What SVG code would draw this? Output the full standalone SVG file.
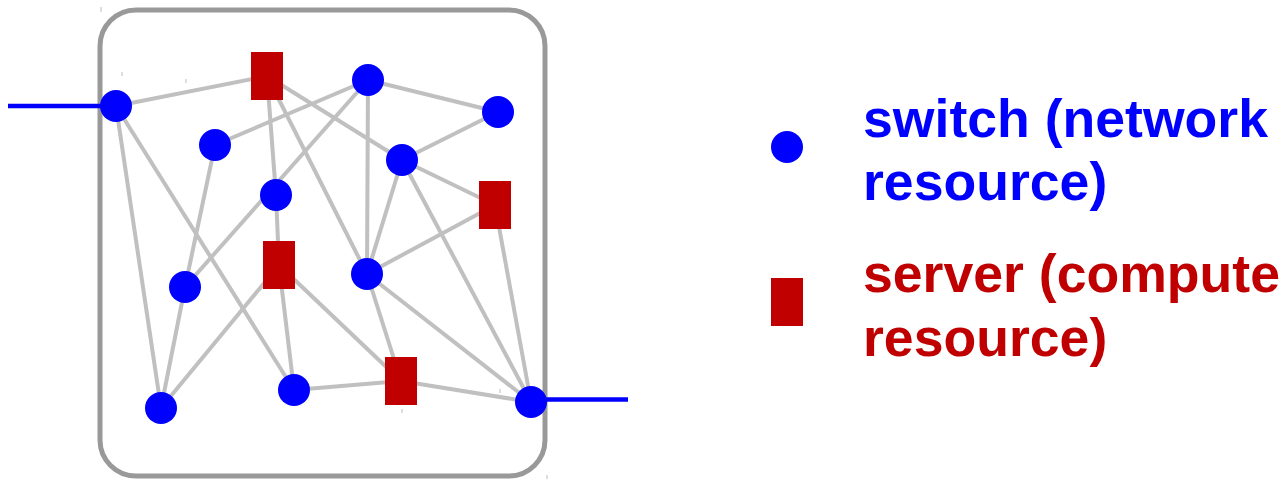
<svg xmlns="http://www.w3.org/2000/svg" width="1281" height="479" viewBox="0 0 1281 479">
  <style>
    .edge { stroke: #c0c0c0; stroke-width: 4; fill: none; }
    .uplink { stroke: #0000ff; stroke-width: 4.5; fill: none; }
    .switch { fill: #0000ff; }
    .server { fill: #c00000; }
    .tick { stroke: #bdbdbd; stroke-width: 1; }
    .label { font-family: "Liberation Sans", Arial, sans-serif; font-weight: bold; font-size: 53.6px; }
  </style>
  <defs>
    <circle id="sw" r="16"/>
    <rect id="srv" x="-16" y="-24" width="32" height="48"/>
  </defs>

  <!-- enclosing data-center boundary -->
  <rect id="boundary" x="100" y="10" width="445" height="466" rx="36" ry="36" fill="#ffffff" stroke="#999999" stroke-width="5"/>

  <!-- small stray ticks -->
  <g id="ticks">
    <line class="tick" x1="101" y1="7" x2="101" y2="12"/>
    <line class="tick" x1="122" y1="72" x2="122" y2="76"/>
    <line class="tick" x1="186" y1="79" x2="186" y2="83"/>
    <line class="tick" x1="500" y1="389" x2="500" y2="393"/>
    <line class="tick" x1="402" y1="409" x2="402" y2="413"/>
    <line class="tick" x1="547" y1="475" x2="547" y2="479"/>
  </g>

  <!-- links -->
  <g id="connectors">
    <line class="uplink" x1="8" y1="106" x2="116" y2="106"/>
    <line class="uplink" x1="531" y1="399.5" x2="628" y2="399.5"/>

    <line class="edge" x1="116" y1="106" x2="267" y2="76"/>
    <line class="edge" x1="116" y1="106" x2="161" y2="408"/>
    <line class="edge" x1="116" y1="106" x2="294" y2="390"/>
    <line class="edge" x1="215" y1="145" x2="368" y2="80"/>
    <line class="edge" x1="215" y1="145" x2="185" y2="287"/>
    <line class="edge" x1="185" y1="287" x2="161" y2="408"/>
    <line class="edge" x1="185" y1="287" x2="368" y2="80"/>
    <line class="edge" x1="267" y1="76" x2="276" y2="195"/>
    <line class="edge" x1="276" y1="195" x2="279" y2="265"/>
    <line class="edge" x1="267" y1="76" x2="402" y2="160"/>
    <line class="edge" x1="267" y1="76" x2="367" y2="274"/>
    <line class="edge" x1="368" y1="80" x2="498" y2="112"/>
    <line class="edge" x1="368" y1="80" x2="367" y2="274"/>
    <line class="edge" x1="498" y1="112" x2="402" y2="160"/>
    <line class="edge" x1="402" y1="160" x2="495" y2="205"/>
    <line class="edge" x1="402" y1="160" x2="367" y2="274"/>
    <line class="edge" x1="402" y1="160" x2="531" y2="402"/>
    <line class="edge" x1="495" y1="205" x2="367" y2="274"/>
    <line class="edge" x1="495" y1="205" x2="531" y2="402"/>
    <line class="edge" x1="367" y1="274" x2="401" y2="381"/>
    <line class="edge" x1="367" y1="274" x2="531" y2="402"/>
    <line class="edge" x1="279" y1="265" x2="161" y2="408"/>
    <line class="edge" x1="279" y1="265" x2="294" y2="390"/>
    <line class="edge" x1="279" y1="265" x2="401" y2="381"/>
    <line class="edge" x1="294" y1="390" x2="401" y2="381"/>
    <line class="edge" x1="401" y1="381" x2="531" y2="402"/>
  </g>

  <!-- switches -->
  <g id="switch-1"><use href="#sw" class="switch" x="116" y="106"/></g>
  <g id="switch-2"><use href="#sw" class="switch" x="215" y="145"/></g>
  <g id="switch-3"><use href="#sw" class="switch" x="276" y="195"/></g>
  <g id="switch-4"><use href="#sw" class="switch" x="368" y="80"/></g>
  <g id="switch-5"><use href="#sw" class="switch" x="498" y="112"/></g>
  <g id="switch-6"><use href="#sw" class="switch" x="402" y="160"/></g>
  <g id="switch-7"><use href="#sw" class="switch" x="185" y="287"/></g>
  <g id="switch-8"><use href="#sw" class="switch" x="161" y="408"/></g>
  <g id="switch-9"><use href="#sw" class="switch" x="294" y="390"/></g>
  <g id="switch-10"><use href="#sw" class="switch" x="367" y="274"/></g>
  <g id="switch-11"><use href="#sw" class="switch" x="531" y="402"/></g>

  <!-- servers -->
  <g id="server-a"><use href="#srv" class="server" x="267" y="76"/></g>
  <g id="server-b"><use href="#srv" class="server" x="495" y="205"/></g>
  <g id="server-c"><use href="#srv" class="server" x="279" y="265"/></g>
  <g id="server-d"><use href="#srv" class="server" x="401" y="381"/></g>

  <!-- legend -->
  <g id="legend-switch">
    <use href="#sw" class="switch" x="787" y="147"/>
    <text class="label" fill="#0000ff" x="863" y="137">switch (network</text>
    <text class="label" fill="#0000ff" x="863" y="200">resource)</text>
  </g>
  <g id="legend-server">
    <use href="#srv" class="server" x="787" y="302"/>
    <text class="label" fill="#c00000" x="863" y="292">server (compute</text>
    <text class="label" fill="#c00000" x="863" y="356">resource)</text>
  </g>
</svg>
